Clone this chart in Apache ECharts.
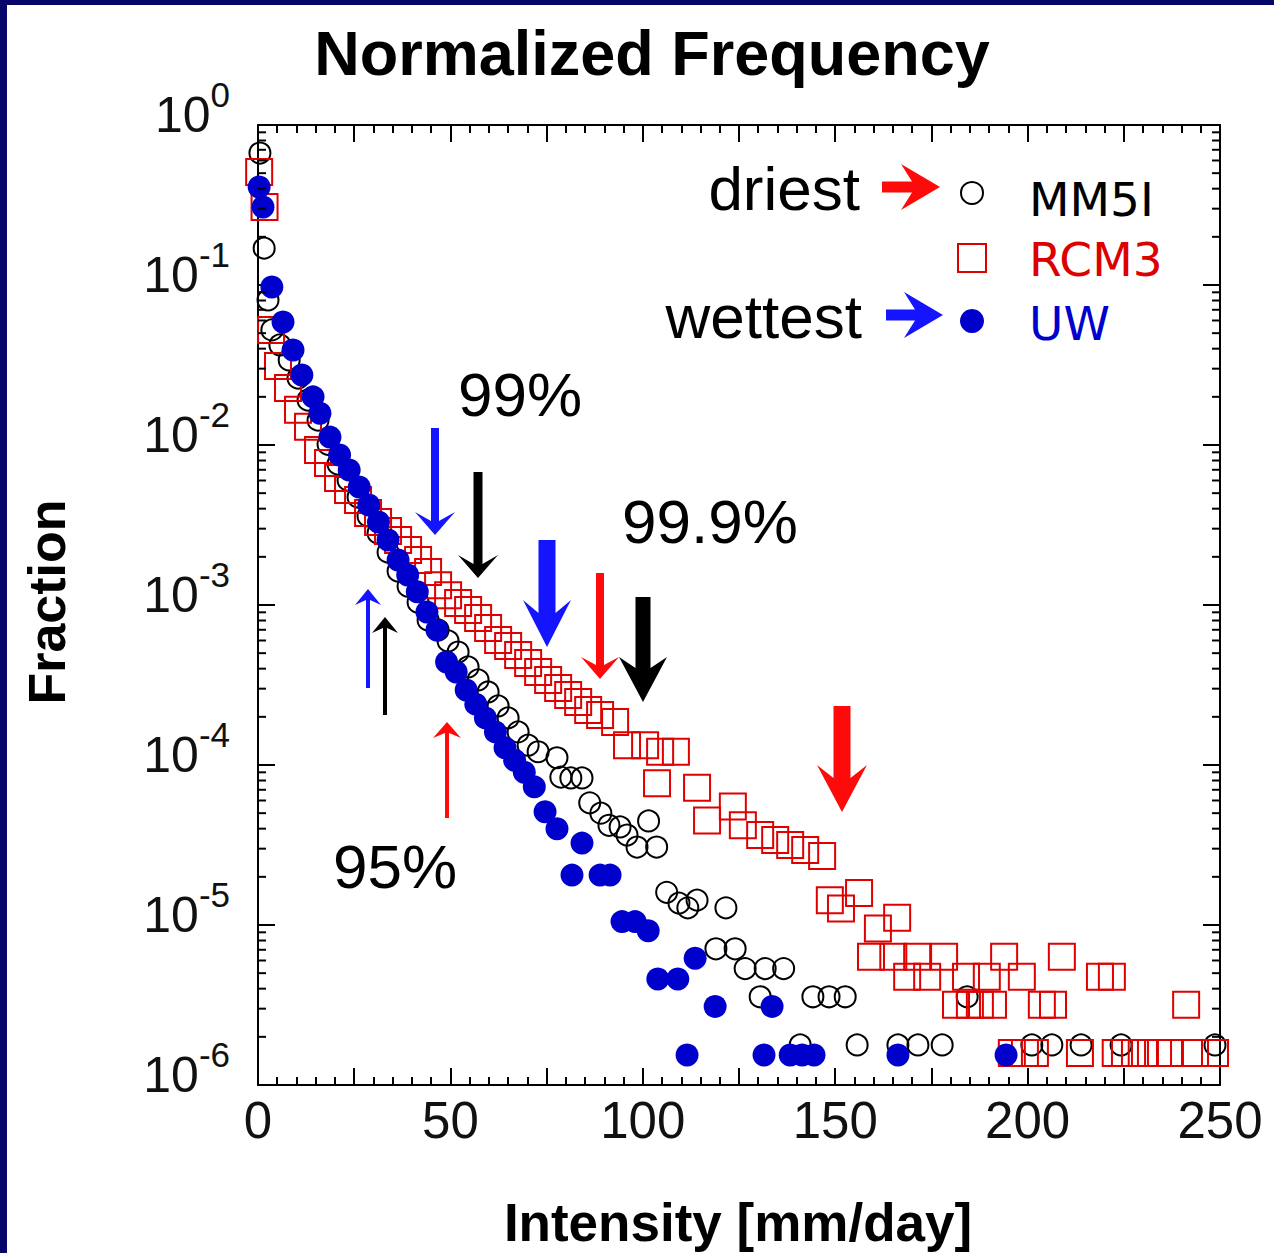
<!DOCTYPE html>
<html><head><meta charset="utf-8">
<script src="https://cdn.jsdelivr.net/npm/echarts@6/dist/echarts.min.js"></script>
<style>
html,body{margin:0;padding:0;background:#fff;}
#c{width:1274px;height:1253px;position:absolute;left:0;top:0;}
.bl{position:absolute;left:0;top:0;width:7px;height:1253px;background:#06066a;}
.bt{position:absolute;left:0;top:0;width:1274px;height:5px;background:#06066a;}
</style></head>
<body><div id="c"></div><div class="bl"></div><div class="bt"></div>
<script>
// ---------------- data ----------------
const xTickLabels = [0, 50, 100, 150, 200, 250];
const yDecades = [1e-6, 1e-5, 1e-4, 1e-3, 1e-2, 1e-1, 1];
const minorMultipliers = [2, 3, 4, 5, 6, 7, 8, 9];

const mm5iX = [0.5,1.6,2.6,3.6,5.7,8.1,10.4,13.0,15.6,18.2,20.8,23.4,26.0,28.6,31.2,33.8,36.4,39.0,41.6,44.2,46.8,49.4,52.0,54.6,57.2,59.8,62.4,65.0,67.6,70.2,72.8,77.7,78.7,81.3,84.2,86.2,89.1,91.2,94.1,95.9,98.5,101.5,103.6,106.2,109.4,111.7,114.1,119.0,121.6,124.0,126.6,130.5,131.8,136.6,140.9,144.2,148.4,152.6,155.7,166.3,171.5,177.8,184.3,201.1,206.3,213.9,224.3,248.7];
const mm5iY = [0.668,0.17,0.0806,0.0524,0.0422,0.034,0.0262,0.0191,0.0143,0.0101,0.0076,0.00604,0.00473,0.0036,0.00282,0.00214,0.00163,0.00131,0.00104,0.000806,0.000698,0.000596,0.000508,0.00041,0.00034,0.000286,0.000234,0.000197,0.000161,0.000133,0.000121,0.000111,8.4e-5,8.3e-5,8.3e-5,5.8e-5,5.0e-5,4.2e-5,4.1e-5,3.65e-5,3.07e-5,4.47e-5,3.07e-5,1.6e-5,1.37e-5,1.28e-5,1.43e-5,7.1e-6,1.28e-5,7.1e-6,5.34e-6,3.56e-6,5.34e-6,5.34e-6,1.78e-6,3.56e-6,3.56e-6,3.56e-6,1.78e-6,1.78e-6,1.78e-6,1.78e-6,3.56e-6,1.78e-6,1.78e-6,1.78e-6,1.78e-6,1.78e-6];

const rcm3X = [0.3,1.7,3.4,5.2,7.8,10.4,13.0,15.6,18.2,20.8,23.4,26.0,28.6,31.2,33.8,36.4,39.0,41.6,44.2,46.8,49.4,52.0,54.6,57.2,59.8,62.4,65.0,67.6,70.2,72.8,75.4,78.0,80.6,83.2,85.8,88.9,92.8,95.9,100.6,103.7,104.5,108.6,114.1,116.7,123.4,126.0,130.5,134.4,138.3,142.2,146.6,148.6,151.5,156.2,159.3,161.1,165.1,166.1,168.7,171.3,173.9,178.3,181.4,184.0,185.0,187.6,189.4,191.0,193.9,195.9,198.5,199.3,201.9,203.7,206.6,208.9,213.6,218.8,221.9,222.9,225.3,227.9,230.5,233.9,237.0,241.2,243.5,248.7];
const rcm3Y = [0.508,0.307,0.0524,0.0312,0.0227,0.0166,0.013,0.0093,0.00772,0.00622,0.00523,0.00453,0.00376,0.0033,0.0029,0.00255,0.00221,0.00191,0.00161,0.00133,0.00115,0.00103,0.00093,0.00083,0.000718,0.000604,0.000555,0.000487,0.000434,0.000381,0.00034,0.000303,0.000274,0.000248,0.000221,0.000205,0.000186,0.000133,0.000133,7.7e-5,0.000121,0.000121,7.2e-5,4.5e-5,5.5e-5,4.2e-5,3.65e-5,3.4e-5,3.16e-5,2.94e-5,2.7e-5,1.43e-5,1.27e-5,1.585e-5,6.34e-6,9.5e-6,6.34e-6,1.11e-5,4.75e-6,6.34e-6,4.75e-6,6.34e-6,3.17e-6,4.75e-6,3.17e-6,3.17e-6,4.75e-6,3.17e-6,6.34e-6,1.585e-6,4.75e-6,1.585e-6,1.585e-6,3.17e-6,3.17e-6,6.34e-6,1.585e-6,4.75e-6,4.75e-6,1.585e-6,1.585e-6,1.585e-6,1.585e-6,1.585e-6,1.585e-6,3.17e-6,1.585e-6,1.585e-6];

const uwX = [0.3,1.3,3.6,6.5,9.1,11.4,14.3,16.1,18.7,21.2,23.7,26.3,28.8,31.3,33.8,36.4,38.9,41.4,43.9,46.5,49.0,51.5,54.1,56.6,59.1,61.7,64.2,66.7,69.2,71.8,74.6,77.7,81.6,84.2,88.9,91.5,94.6,98.0,101.4,103.9,109.1,111.5,113.6,118.8,131.5,133.6,138.3,141.4,144.5,166.3,194.4];
const uwY = [0.41,0.307,0.0972,0.0587,0.0392,0.0274,0.02,0.0158,0.0112,0.00866,0.00698,0.00546,0.00422,0.0033,0.00255,0.00191,0.00154,0.00121,0.000904,0.000698,0.00044,0.000381,0.000294,0.00024,0.000197,0.000161,0.000128,0.000107,9.0e-5,7.3e-5,5.1e-5,4.0e-5,2.05e-5,3.25e-5,2.05e-5,2.05e-5,1.05e-5,1.05e-5,9.2e-6,4.6e-6,4.6e-6,1.54e-6,6.2e-6,3.1e-6,1.54e-6,3.1e-6,1.54e-6,1.54e-6,1.54e-6,1.54e-6,1.54e-6];

// ---------------- chart ----------------
const pairs = (xs, ys) => xs.map((v, i) => [v, ys[i]]);
const minorData = [];
yDecades.slice(0, -1).forEach(d => minorMultipliers.forEach(m => minorData.push([0, d * m])));

const AX = { color: '#000', width: 2 };
const xAxisDef = (pos, show) => ({
  type: 'value', position: pos, min: 0, max: 250, interval: 25,
  axisLine: { show: true, onZero: false, lineStyle: AX },
  axisTick: { show: true, inside: true, length: 17, lineStyle: AX },
  minorTick: { show: true, splitNumber: 5, length: 8, lineStyle: AX },
  splitLine: { show: false }, minorSplitLine: { show: false },
  axisLabel: { show: show, margin: 10, fontSize: 51, fontFamily: 'Liberation Sans', color: '#111',
    hideOverlap: false,
    formatter: v => (xTickLabels.indexOf(v) >= 0 ? String(v) : '') }
});
const yAxisDef = (pos, show) => ({
  type: 'log', logBase: 10, min: 1e-6, max: 1, splitNumber: 6, position: pos,
  axisLine: { show: true, onZero: false, lineStyle: AX },
  axisTick: { show: true, inside: true, length: 17, lineStyle: AX },
  splitLine: { show: false },
  axisLabel: { show: show, margin: 28, padding: [0, 0, 20, 0],
    formatter: v => '{b|10}{s|' + Math.round(Math.log10(v)) + '}',
    rich: {
      b: { fontSize: 50, lineHeight: 50, fontFamily: 'Liberation Sans', color: '#111' },
      s: { fontSize: 35, lineHeight: 36, fontFamily: 'Liberation Sans', color: '#111', padding: [0, 0, 42, 0] }
    } }
});

function arrow(x, tail, tip, sw, hw, hl, notch, color, horizontal) {
  const dir = tip > tail ? 1 : -1;
  const corner = tip - dir * hl, nY = corner + dir * notch;
  let pts = [[x - sw / 2, tail], [x + sw / 2, tail], [x + sw / 2, nY], [x + hw, corner], [x, tip], [x - hw, corner], [x - sw / 2, nY]];
  if (horizontal) pts = pts.map(p => [p[1], p[0]]);
  return { type: 'polygon', shape: { points: pts }, style: { fill: color }, z: 100 };
}
const BLUE = '#1414ff', RED = '#ff0a0a';
const annArrows = [
  [435, 428, 535, 8, 20, 23, 9, BLUE],
  [478, 472, 578, 9, 20, 23, 9, '#000'],
  [547, 540, 647, 17, 24, 47, 13, BLUE],
  [600, 573, 679, 8, 19, 22, 8, RED],
  [643, 597, 702, 15, 24, 45, 11, '#000'],
  [842, 706, 812, 17, 25, 47, 13, RED],
  [368, 688, 589, 4, 13, 16, 5, BLUE],
  [385, 715, 617, 4, 13, 16, 5, '#000'],
  [447, 818, 722, 4, 14, 16, 5, RED]
].map(a => arrow(a[0], a[1], a[2], a[3], a[4], a[5], a[6], a[7], false));

function txt(t, x, y, font, fill, align, extra) {
  return Object.assign({ type: 'text', x: x, y: y, z: 100,
    style: { text: t, font: font, fill: fill, align: align, textAlign: align, verticalAlign: 'middle', textVerticalAlign: 'middle' } }, extra || {});
}
const F = '"Liberation Sans", Arial, sans-serif';
const D = '"DejaVu Sans", Verdana, sans-serif';
const graphics = [
  txt('Normalized Frequency', 652, 53, 'bold 63px ' + F, '#000', 'center'),
  txt('Fraction', 47, 602, 'bold 52px ' + F, '#000', 'center', { rotation: Math.PI / 2 }),
  txt('Intensity [mm/day]', 738, 1222, 'bold 53px ' + F, '#000', 'center'),
  txt('driest', 860, 188, '62px ' + F, '#000', 'right'),
  txt('wettest', 862, 316, '62px ' + F, '#000', 'right'),
  txt('MM5I', 1029, 199, '47px ' + D, '#000', 'left'),
  txt('RCM3', 1029, 259, '47px ' + D, '#dd0000', 'left'),
  txt('UW', 1029, 323, '47px ' + D, '#0000cc', 'left'),
  txt('99%', 458, 394, '62px ' + F, '#000', 'left'),
  txt('99.9%', 622, 521, '62px ' + F, '#000', 'left'),
  txt('95%', 333, 866, '62px ' + F, '#000', 'left'),
  { type: 'circle', shape: { cx: 972, cy: 193, r: 11 }, style: { fill: 'none', stroke: '#000', lineWidth: 2 }, z: 100 },
  { type: 'rect', shape: { x: 958, y: 244, width: 28, height: 28 }, style: { fill: 'none', stroke: '#dd0000', lineWidth: 2 }, z: 100 },
  { type: 'circle', shape: { cx: 972, cy: 321, r: 12 }, style: { fill: '#0000cc' }, z: 100 },
  arrow(187, 882, 940, 11, 23, 39, 11, RED, true),
  arrow(315, 886, 943, 11, 23, 39, 11, BLUE, true)
].concat(annArrows);

const chart = echarts.init(document.getElementById('c'), null, { renderer: 'svg', width: 1274, height: 1253 });
chart.setOption({
  animation: false,
  backgroundColor: '#fff',
  grid: { left: 258, top: 125, width: 962, height: 960, containLabel: false },
  xAxis: [xAxisDef('bottom', true), xAxisDef('top', false)],
  yAxis: [yAxisDef('left', true), yAxisDef('right', false)],
  series: [
    { type: 'custom', name: 'minorTicks', silent: true, clip: false, z: 10, xAxisIndex: 0, yAxisIndex: 0,
      data: minorData,
      renderItem: (params, api) => {
        const p = api.coord([0, api.value(1)]);
        const q = api.coord([250, api.value(1)]);
        return { type: 'group', children: [
          { type: 'line', shape: { x1: p[0], y1: p[1], x2: p[0] + 8, y2: p[1] }, style: { stroke: '#000', lineWidth: 2 } },
          { type: 'line', shape: { x1: q[0] - 8, y1: q[1], x2: q[0], y2: q[1] }, style: { stroke: '#000', lineWidth: 2 } }
        ] };
      } },
    { type: 'scatter', name: 'MM5I', data: pairs(mm5iX, mm5iY), symbol: 'circle', symbolSize: 21, z: 2,
      itemStyle: { color: 'rgba(0,0,0,0)', borderColor: '#000', borderWidth: 2, opacity: 1 }, emphasis: { disabled: true } },
    { type: 'scatter', name: 'RCM3', data: pairs(rcm3X, rcm3Y), symbol: 'rect', symbolSize: 26, z: 3,
      itemStyle: { color: 'rgba(0,0,0,0)', borderColor: '#e00000', borderWidth: 2, opacity: 1 }, emphasis: { disabled: true } },
    { type: 'scatter', name: 'UW', data: pairs(uwX, uwY), symbol: 'circle', symbolSize: 23, z: 4,
      itemStyle: { color: '#0000cc', opacity: 1 }, emphasis: { disabled: true } }
  ],
  graphic: { elements: graphics }
});
</script></body></html>
